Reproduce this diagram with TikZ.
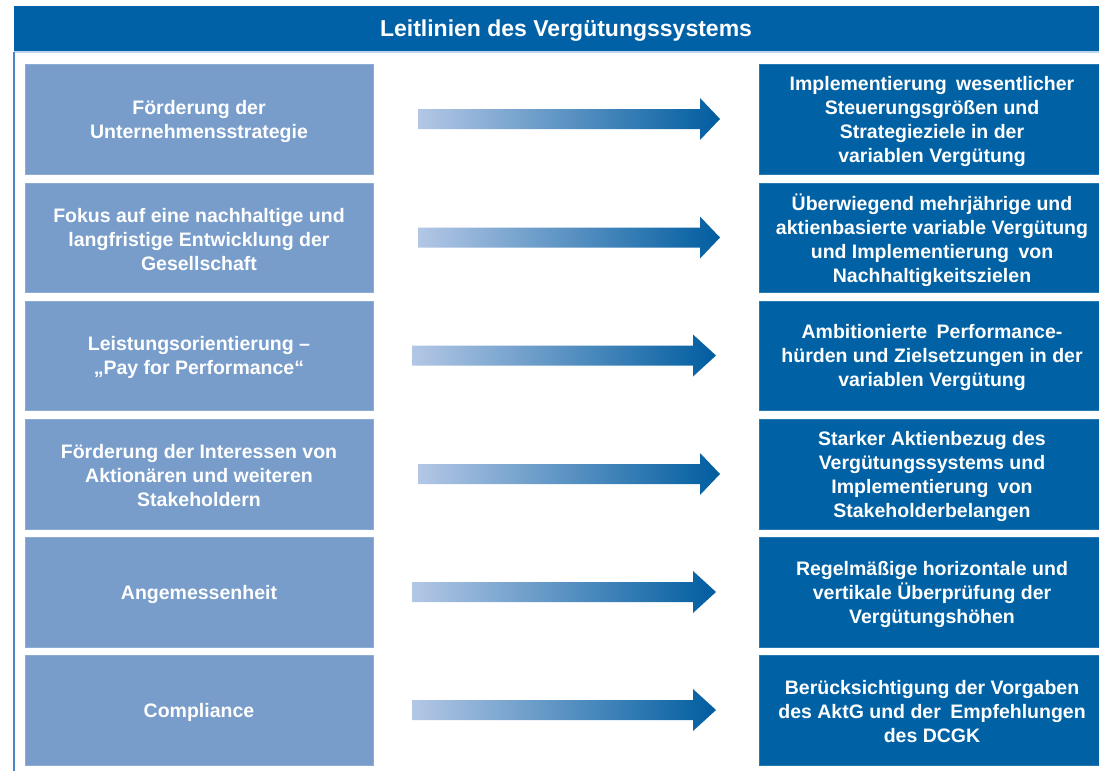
\documentclass[tikz,border=0pt]{standalone}
\usepackage{fontspec}
\setmainfont{Liberation Sans}
\definecolor{hdr}{HTML}{0061A6}
\definecolor{rbox}{HTML}{0062A5}
\definecolor{lbox}{HTML}{789DCB}
\definecolor{arrL}{HTML}{B3C7E5}
\definecolor{arrR}{HTML}{005DA0}
\definecolor{frame}{HTML}{4A86C5}
\definecolor{hline}{HTML}{BFD3EC}
\begin{document}
\begin{tikzpicture}[x=1pt,y=-1pt,
  leftbox/.style={fill=lbox, draw=lbox!85!white, line width=0.6pt, minimum width=348pt, inner sep=0pt},
  rightbox/.style={fill=rbox, draw=rbox!85!white, line width=0.6pt, minimum width=340pt, inner sep=0pt},
  txt/.style={text=white, align=center, inner sep=0pt, font=\fontsize{19.5}{24}\selectfont\bfseries}]
\useasboundingbox (0,0) rectangle (1099,771);
\fill[white] (0,0) rectangle (1099,771);
% header
\node[fill=hdr, minimum width=1085pt, minimum height=46pt, inner sep=0pt, anchor=north west] (H) at (14,6) {};
\node[text=white, font=\fontsize{23}{27}\selectfont\bfseries, inner sep=0pt] (T) at (566,31) {Leitlinien des Vergütungssystems};
\draw[hline, line width=2pt] (H.south west) -- (H.south east);
\draw[frame, line width=1.6pt] (14,52) -- (14,771);
% left boxes
\node[leftbox, minimum height=110pt] (L1) at (199,119) {};
\node[leftbox, minimum height=109pt] (L2) at (199,237.5) {};
\node[leftbox, minimum height=109pt] (L3) at (199,355.5) {};
\node[leftbox, minimum height=110pt] (L4) at (199,474) {};
\node[leftbox, minimum height=110pt] (L5) at (199,592) {};
\node[leftbox, minimum height=110pt] (L6) at (199,710) {};
% right boxes
\node[rightbox, minimum height=110pt] (R1) at (929,119) {};
\node[rightbox, minimum height=109pt] (R2) at (929,237.5) {};
\node[rightbox, minimum height=109pt] (R3) at (929,355.5) {};
\node[rightbox, minimum height=110pt] (R4) at (929,474) {};
\node[rightbox, minimum height=110pt] (R5) at (929,592) {};
\node[rightbox, minimum height=110pt] (R6) at (929,710) {};
% left texts
\node[txt] (lt1) at (199,121) {Förderung der\\Unternehmensstrategie};
\node[txt] (lt2) at (199,240) {Fokus auf eine nachhaltige und\\langfristige Entwicklung der\\Gesellschaft};
\node[txt] (lt3) at (199,357) {Leistungsorientierung --\\„Pay for Performance“};
\node[txt] (lt4) at (199,476) {Förderung der Interessen von\\Aktionären und weiteren\\Stakeholdern};
\node[txt] (lt5) at (199,594) {Angemessenheit};
\node[txt] (lt6) at (199,712) {Compliance};
% right texts
\node[txt] (rt1) at (932,121) {Implementierung\hspace{4pt} wesentlicher\\Steuerungsgrößen und\\Strategieziele in der\\variablen Vergütung};
\node[txt] (rt2) at (932,240) {Überwiegend mehrjährige und\\aktienbasierte variable Vergütung\\und Implementierung\hspace{4pt} von\\Nachhaltigkeitszielen};
\node[txt] (rt3) at (932,357) {Ambitionierte\hspace{4pt} Performance-\\hürden und Zielsetzungen in der\\variablen Vergütung};
\node[txt] (rt4) at (932,476) {Starker Aktienbezug des\\Vergütungssystems und\\Implementierung\hspace{4pt} von\\Stakeholderbelangen};
\node[txt] (rt5) at (932,594) {Regelmäßige horizontale und\\vertikale Überprüfung der\\Vergütungshöhen};
\node[txt] (rt6) at (932,712) {Berücksichtigung der Vorgaben\\des AktG und der\hspace{4pt} Empfehlungen\\des DCGK};
% arrows
\foreach \i/\yc/\xs/\xb/\xt in {1/119/418/700/720, 2/237.5/418/700/720, 3/355.5/412/693/716, 4/474/418/700/720, 5/592/412/693/716, 6/710/412/693/716}{
  \shade[left color=arrL, right color=arrR]
    (\xs,\yc-10) -- (\xb,\yc-10) -- (\xb,\yc-21) -- (\xt,\yc) -- (\xb,\yc+21) -- (\xb,\yc+10) -- (\xs,\yc+10) -- cycle;
}
\end{tikzpicture}
\end{document}
